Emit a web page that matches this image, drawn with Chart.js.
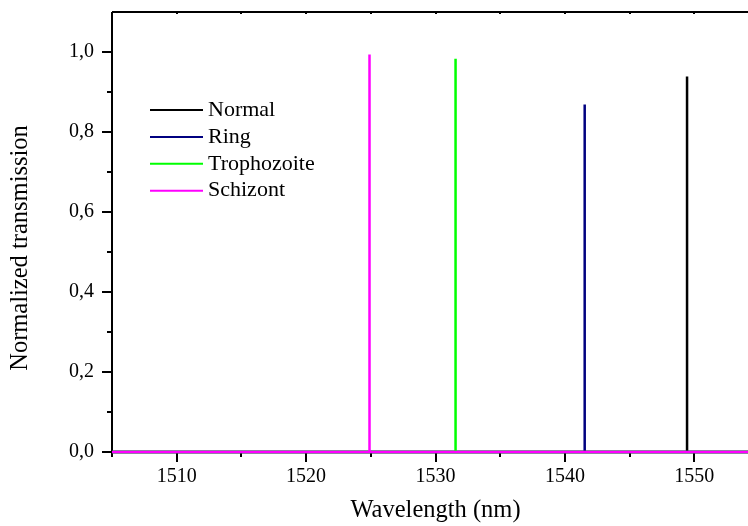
<!DOCTYPE html>
<html>
<head>
<meta charset="utf-8">
<script src="https://cdn.jsdelivr.net/npm/chart.js@4"></script>
<style>
html, body { margin: 0; padding: 0; background: #fff; overflow: hidden; }
#wrap { position: relative; width: 759px; height: 526px; }
</style>
</head>
<body>
<div id="wrap"><canvas id="chart"></canvas></div>
<script>
// Transmission spectra, one narrow peak per stage
const seriesNames = ['Normal', 'Ring', 'Trophozoite', 'Schizont'];
const seriesColors = ['#000000', '#000080', '#00ff00', '#ff00ff'];

const normalX = [1505, 1549.44, 1549.44, 1549.44, 1555];
const normalY = [0, 0, 0.939, 0, 0];
const ringX = [1505, 1541.53, 1541.53, 1541.53, 1555];
const ringY = [0, 0, 0.869, 0, 0];
const trophX = [1505, 1531.55, 1531.55, 1531.55, 1555];
const trophY = [0, 0, 0.983, 0, 0];
const schizX = [1505, 1524.9, 1524.9, 1524.9, 1555];
const schizY = [0, 0, 0.994, 0, 0];

const xMajorTicks = [1510, 1520, 1530, 1540, 1550];
const xMinorTicks = [1505, 1515, 1525, 1535, 1545, 1555];
const yMajorTicks = [0, 0.2, 0.4, 0.6, 0.8, 1.0];
const yMinorTicks = [0.1, 0.3, 0.5, 0.7, 0.9];

const FONT = 'Liberation Serif, Times New Roman, serif';
const Y_TITLE = 'Normalized transmission';

function toPoints(xs, ys) {
    return xs.map((x, i) => ({ x, y: ys[i] }));
}

const allX = [normalX, ringX, trophX, schizX];
const allY = [normalY, ringY, trophY, schizY];

const datasets = seriesNames.map((name, i) => ({
    label: name,
    data: toPoints(allX[i], allY[i]),
    borderColor: seriesColors[i],
    backgroundColor: seriesColors[i],
    borderWidth: 2.5,
    pointRadius: 0,
    showLine: true,
    tension: 0,
    borderJoinStyle: 'bevel',
    order: seriesNames.length - i, // Schizont on top
    clip: 6,
}));

// axis frame + major/minor tick marks
const framePlugin = {
    id: 'frame',
    beforeDatasetsDraw(chart) {
        const { ctx, chartArea: a, scales: { x, y } } = chart;
        ctx.save();
        ctx.strokeStyle = '#000';
        ctx.lineWidth = 2;
        ctx.beginPath();
        ctx.moveTo(a.left, a.top);
        ctx.lineTo(a.left, a.bottom);
        ctx.lineTo(a.right, a.bottom);
        ctx.moveTo(a.left, a.top);
        ctx.lineTo(a.right, a.top);
        ctx.stroke();

        ctx.beginPath();
        xMajorTicks.forEach(v => {
            const px = Math.round(x.getPixelForValue(v));
            ctx.moveTo(px, a.bottom); ctx.lineTo(px, a.bottom + 10);
            ctx.moveTo(px, a.top); ctx.lineTo(px, a.top + 2);
        });
        xMinorTicks.forEach(v => {
            const px = Math.round(x.getPixelForValue(v));
            ctx.moveTo(px, a.bottom); ctx.lineTo(px, a.bottom + 5);
            ctx.moveTo(px, a.top); ctx.lineTo(px, a.top + 2);
        });
        yMajorTicks.forEach(v => {
            const py = Math.round(y.getPixelForValue(v));
            ctx.moveTo(a.left, py); ctx.lineTo(a.left - 10, py);
        });
        yMinorTicks.forEach(v => {
            const py = Math.round(y.getPixelForValue(v));
            ctx.moveTo(a.left, py); ctx.lineTo(a.left - 5, py);
        });
        ctx.stroke();

        // y title sits a little below the plot centre in the original
        ctx.font = '24.5px ' + FONT;
        ctx.fillStyle = '#000';
        ctx.textAlign = 'center';
        ctx.textBaseline = 'middle';
        ctx.translate(21, (a.top + a.bottom) / 2 + 16);
        ctx.rotate(-Math.PI / 2);
        ctx.fillText(Y_TITLE, 0, 0);
        ctx.restore();
    }
};

// legend drawn inside the plot, upper left
const legendPlugin = {
    id: 'insideLegend',
    afterDraw(chart) {
        const { ctx, chartArea: a } = chart;
        const x0 = a.left + 38, x1 = a.left + 91, tx = a.left + 96;
        const top = a.top + 98, step = 26.9;
        ctx.save();
        ctx.font = '22px ' + FONT;
        ctx.textBaseline = 'middle';
        ctx.textAlign = 'left';
        chart.data.datasets.forEach((ds, i) => {
            const yy = top + i * step;
            ctx.strokeStyle = ds.borderColor;
            ctx.lineWidth = 2;
            ctx.beginPath();
            ctx.moveTo(x0, yy); ctx.lineTo(x1, yy);
            ctx.stroke();
            ctx.fillStyle = '#000';
            ctx.fillText(ds.label, tx, yy);
        });
        ctx.restore();
    }
};

new Chart(document.getElementById('chart'), {
    type: 'scatter',
    data: { datasets },
    options: {
        responsive: true,
        maintainAspectRatio: false,
        devicePixelRatio: 1,
        animation: false,
        layout: { padding: { top: 12, right: 0, left: 0, bottom: 0 } },
        plugins: {
            legend: { display: false },
            tooltip: { enabled: false },
        },
        scales: {
            x: {
                type: 'linear',
                min: 1505, max: 1555,
                afterBuildTicks: s => { s.ticks = xMajorTicks.map(v => ({ value: v })); },
                afterFit: s => { s.height = 74; s.paddingLeft = 0; s.paddingRight = 0; },
                grid: { display: false, drawTicks: false },
                border: { display: false },
                ticks: {
                    color: '#000', padding: 13, maxRotation: 0, autoSkip: false,
                    font: { family: FONT, size: 20 },
                    callback: v => String(v),
                },
                title: {
                    display: true, text: 'Wavelength (nm)', color: '#000',
                    font: { family: FONT, size: 24.5 },
                    padding: { top: 0, bottom: 1 },
                },
            },
            y: {
                type: 'linear',
                min: 0, max: 1.1,
                afterBuildTicks: s => { s.ticks = yMajorTicks.map(v => ({ value: v })); },
                afterFit: s => { s.width = 112; s.paddingTop = 0; s.paddingBottom = 0; },
                grid: { display: false, drawTicks: false },
                border: { display: false },
                ticks: {
                    color: '#000', padding: 18,
                    font: { family: FONT, size: 20 },
                    callback: v => v.toFixed(1).replace('.', ','),
                },
                title: { display: false },
            },
        },
    },
    plugins: [framePlugin, legendPlugin],
});
</script>
</body>
</html>
